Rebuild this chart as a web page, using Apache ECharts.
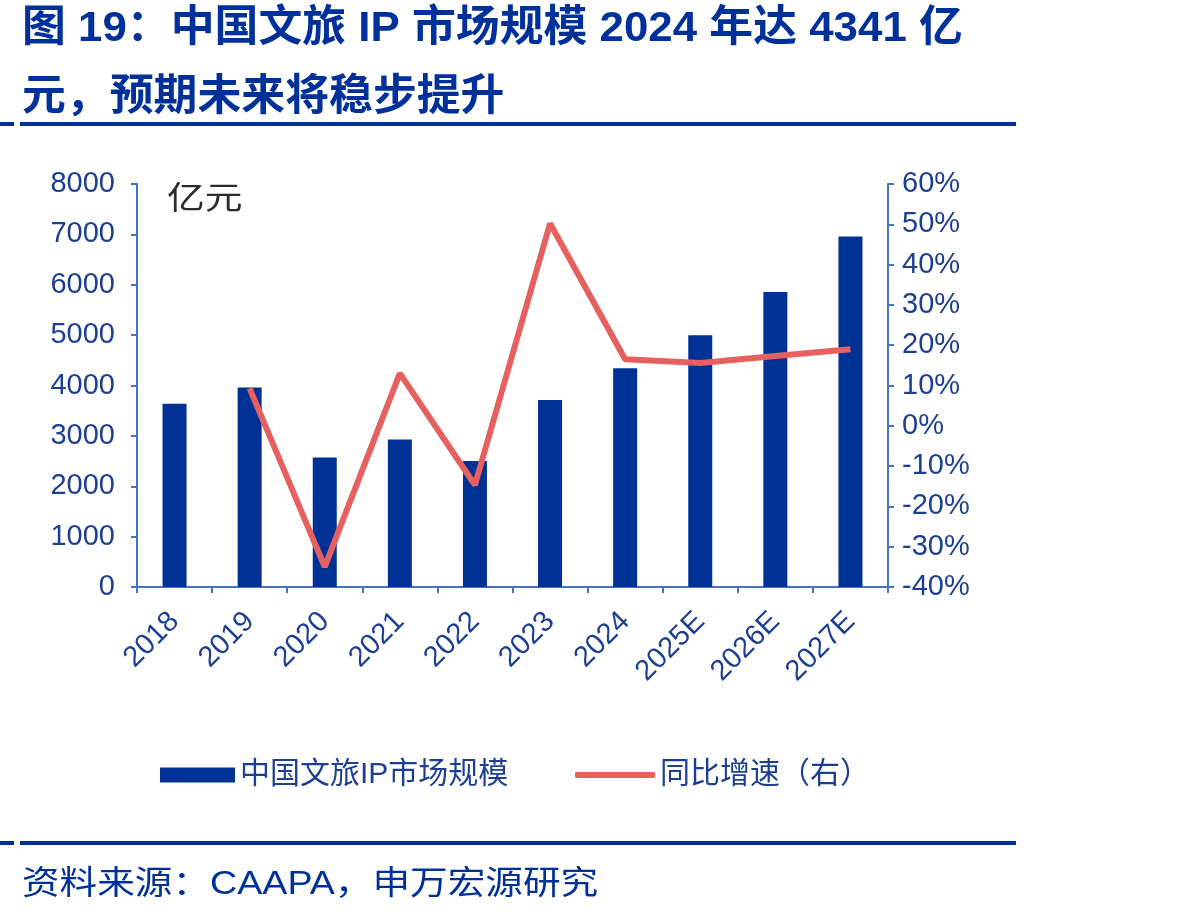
<!DOCTYPE html>
<html>
<head>
    <meta charset="utf-8">
    <title>中国文旅IP市场规模</title>
    <script src="https://cdn.jsdelivr.net/npm/echarts@6/dist/echarts.min.js"></script>
    <style>
        html, body { margin: 0; padding: 0; background: #fff; }
        #chart1 { width: 1186px; height: 919px; }
    </style>
</head>
<body>
<div id="chart1"></div>
<script type="text/javascript">
    // 数据
    var years = ['2018', '2019', '2020', '2021', '2022', '2023', '2024', '2025E', '2026E', '2027E'];
    var marketSize = [3640, 3960, 2570, 2930, 2500, 3710, 4341, 5000, 5855, 6960];
    var growth = [null, 9.3, -35.0, 13.0, -14.7, 50.2, 16.5, 15.6, 17.3, 19.0];
    var leftTicks = { min: 0, max: 8000, interval: 1000 };
    var rightTicks = { min: -40, max: 60, interval: 10 };

    var FONT = '"Liberation Sans", Arial, "Noto Sans CJK SC", sans-serif';
    var DARK_BLUE = '#003296';
    var AXIS_BLUE = '#4472C4';
    var LABEL_BLUE = '#1D3F92';
    var RED = '#E5605E';

    var myChart1 = echarts.init(document.getElementById('chart1'));

    myChart1.setOption({
        backgroundColor: '#fff',
        animation: false,
        textStyle: { fontFamily: FONT },
        grid: { left: 137, right: 298, top: 184, bottom: 332, containLabel: false },
        legend: [{
            left: 155,
            top: 755,
            itemWidth: 75,
            itemHeight: 15,
            textStyle: { fontSize: 30, color: LABEL_BLUE, fontFamily: FONT },
            data: [{ name: '中国文旅IP市场规模', icon: 'rect' }]
        }, {
            left: 570,
            top: 755,
            itemWidth: 80,
            itemHeight: 6,
            textStyle: { fontSize: 30, color: LABEL_BLUE, fontFamily: FONT },
            data: [{ name: '同比增速（右）', icon: 'roundRect', itemStyle: { color: RED } }]
        }],
        xAxis: {
            type: 'category',
            data: years,
            boundaryGap: true,
            axisLine: { lineStyle: { color: AXIS_BLUE, width: 2 } },
            axisTick: { show: true, length: 6, lineStyle: { color: AXIS_BLUE, width: 2 } },
            axisLabel: { rotate: 45, fontSize: 29, color: LABEL_BLUE, margin: 30, fontFamily: FONT }
        },
        yAxis: [{
            type: 'value',
            min: leftTicks.min,
            max: leftTicks.max,
            interval: leftTicks.interval,
            splitLine: { show: false },
            axisLine: { show: true, lineStyle: { color: AXIS_BLUE, width: 2 } },
            axisTick: { show: true, length: 6, lineStyle: { color: AXIS_BLUE, width: 2 } },
            axisLabel: { fontSize: 29, color: LABEL_BLUE, margin: 22, fontFamily: FONT,
                formatter: function (v) { return String(v); } }
        }, {
            type: 'value',
            position: 'right',
            min: rightTicks.min,
            max: rightTicks.max,
            interval: rightTicks.interval,
            splitLine: { show: false },
            axisLine: { show: true, lineStyle: { color: AXIS_BLUE, width: 2 } },
            axisTick: { show: true, length: 6, lineStyle: { color: AXIS_BLUE, width: 2 } },
            axisLabel: { fontSize: 29, color: LABEL_BLUE, margin: 14, formatter: '{value}%', fontFamily: FONT }
        }],
        series: [{
            name: '中国文旅IP市场规模',
            type: 'bar',
            data: marketSize,
            barWidth: 24,
            itemStyle: { color: DARK_BLUE }
        }, {
            name: '同比增速（右）',
            type: 'line',
            yAxisIndex: 1,
            data: growth,
            symbol: 'none',
            lineStyle: { color: RED, width: 6 },
            itemStyle: { color: RED }
        }],
        graphic: [
            // 标题
            { type: 'text', x: 22, y: 8, scaleX: 1.02, style: { text: '图 19：中国文旅 IP 市场规模 2024 年达 4341 亿', fontSize: 43, fontWeight: 'bold', fill: '#00309A', fontFamily: FONT } },
            { type: 'text', x: 22, y: 77, scaleX: 1.02, style: { text: '元，预期未来将稳步提升', fontSize: 43, fontWeight: 'bold', fill: '#00309A', fontFamily: FONT } },
            { type: 'rect', shape: { x: 0, y: 122, width: 14, height: 4 }, style: { fill: '#00309A' } },
            { type: 'rect', shape: { x: 20, y: 122, width: 996, height: 4 }, style: { fill: '#00309A' } },
            // 单位
            { type: 'text', x: 167, y: 184, scaleX: 1.18, style: { text: '亿元', fontSize: 32, fill: '#2b2b2b', fontFamily: FONT } },
            // 底部
            { type: 'rect', shape: { x: 0, y: 841, width: 14, height: 4 }, style: { fill: '#00309A' } },
            { type: 'rect', shape: { x: 20, y: 841, width: 996, height: 4 }, style: { fill: '#00309A' } },
            { type: 'text', x: 22, y: 868, scaleX: 1.14, style: { text: '资料来源：CAAPA，申万宏源研究', fontSize: 33, fill: '#00309A', fontFamily: FONT } }
        ]
    });
</script>
</body>
</html>
